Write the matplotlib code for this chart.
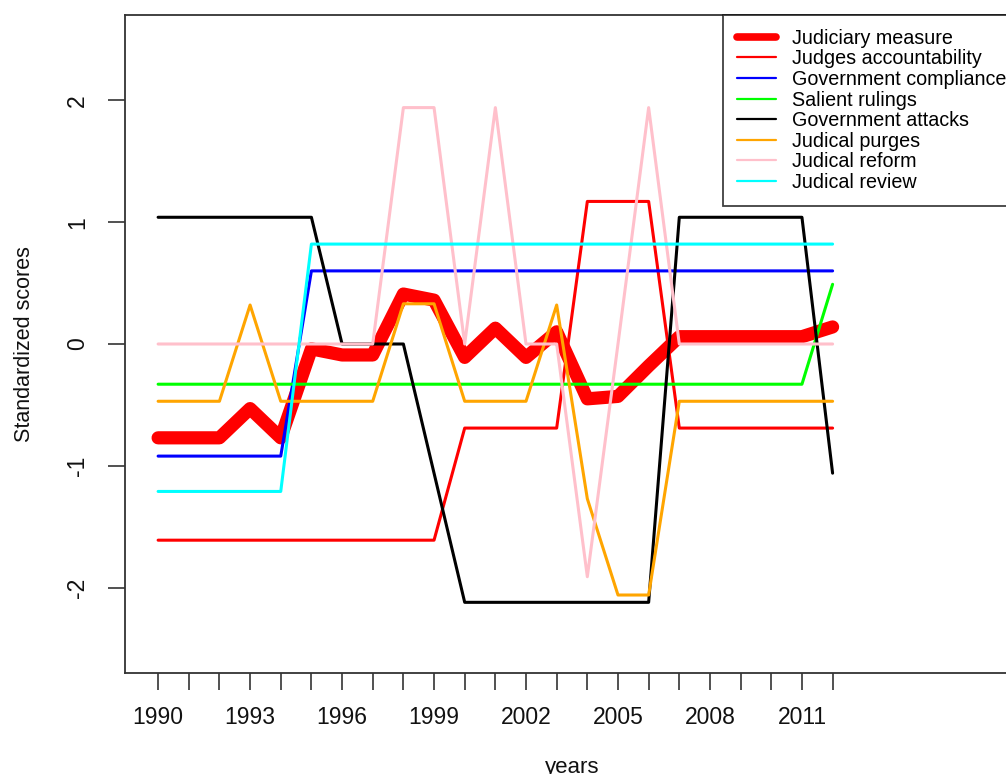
import matplotlib.pyplot as plt
from matplotlib.ticker import FixedLocator

plt.rcParams['font.family'] = ['Liberation Sans', 'DejaVu Sans']

# standardized scores per year, 1990-2012
years = list(range(1990, 2013))

judiciary = [-0.77, -0.77, -0.77, -0.53, -0.77, -0.04, -0.09, -0.09, 0.41, 0.36,
             -0.11, 0.13, -0.11, 0.10, -0.45, -0.43, -0.18, 0.06, 0.06, 0.06,
             0.06, 0.06, 0.14]
accountability = [-1.61, -1.61, -1.61, -1.61, -1.61, -1.61, -1.61, -1.61, -1.61, -1.61,
                  -0.69, -0.69, -0.69, -0.69, 1.17, 1.17, 1.17, -0.69, -0.69, -0.69,
                  -0.69, -0.69, -0.69]
compliance = [-0.92, -0.92, -0.92, -0.92, -0.92, 0.60, 0.60, 0.60, 0.60, 0.60,
              0.60, 0.60, 0.60, 0.60, 0.60, 0.60, 0.60, 0.60, 0.60, 0.60,
              0.60, 0.60, 0.60]
salient = [-0.33, -0.33, -0.33, -0.33, -0.33, -0.33, -0.33, -0.33, -0.33, -0.33,
           -0.33, -0.33, -0.33, -0.33, -0.33, -0.33, -0.33, -0.33, -0.33, -0.33,
           -0.33, -0.33, 0.49]
attacks = [1.04, 1.04, 1.04, 1.04, 1.04, 1.04, 0.0, 0.0, 0.0, -1.06,
           -2.12, -2.12, -2.12, -2.12, -2.12, -2.12, -2.12, 1.04, 1.04, 1.04,
           1.04, 1.04, -1.06]
purges = [-0.47, -0.47, -0.47, 0.32, -0.47, -0.47, -0.47, -0.47, 0.33, 0.33,
          -0.47, -0.47, -0.47, 0.32, -1.27, -2.06, -2.06, -0.47, -0.47, -0.47,
          -0.47, -0.47, -0.47]
reform = [0.0, 0.0, 0.0, 0.0, 0.0, 0.0, 0.0, 0.0, 1.94, 1.94,
          0.0, 1.94, 0.0, 0.0, -1.91, 0.0, 1.94, 0.0, 0.0, 0.0,
          0.0, 0.0, 0.0]
review = [-1.21, -1.21, -1.21, -1.21, -1.21, 0.82, 0.82, 0.82, 0.82, 0.82,
          0.82, 0.82, 0.82, 0.82, 0.82, 0.82, 0.82, 0.82, 0.82, 0.82,
          0.82, 0.82, 0.82]

labels = ['Judiciary measure', 'Judges accountability', 'Government compliance',
          'Salient rulings', 'Government attacks', 'Judical purges',
          'Judical reform', 'Judical review']
colors = ['#ff0000', '#ff0000', '#0000ff', '#00ff00', '#000000', '#ffa500',
          '#ffc0cb', '#00ffff']
series = [judiciary, accountability, compliance, salient, attacks, purges,
          reform, review]
xtick_labels = ['1990', '1993', '1996', '1999', '2002', '2005', '2008', '2011']

fig = plt.figure(figsize=(10.06, 7.74), dpi=100)
ax = fig.add_axes([125 / 1006, 101 / 774, 894 / 1006, 658 / 774])

for i, (vals, col, lab) in enumerate(zip(series, colors, labels)):
    lw = 9.5 if i == 0 else 2.2
    ax.plot(years, vals, color=col, lw=lw, label=lab,
            solid_capstyle='round', solid_joinstyle='round')

ax.set_xlim(1988.92, 2018.08)
ax.set_ylim(-2.7, 2.7)

ax.xaxis.set_major_locator(FixedLocator(years))
ax.set_xticklabels([str(y) if str(y) in xtick_labels else '' for y in years])
ax.set_yticks([-2, -1, 0, 1, 2])
ax.set_yticklabels(['-2', '-1', '0', '1', '2'], rotation=90, va='center')
ax.tick_params(axis='both', direction='out', length=12, width=1.2,
               color='#333333', labelsize=16.5, labelcolor='#111111')
ax.tick_params(axis='x', pad=12)
ax.tick_params(axis='y', pad=14)

for sp in ax.spines.values():
    sp.set_color('#333333')
    sp.set_linewidth(1.3)

ax.set_xlabel('years', fontsize=16, color='#111111', labelpad=20)
ax.set_ylabel('Standardized scores', fontsize=15.5, color='#111111', labelpad=22)

leg = ax.legend(loc='upper left', bbox_to_anchor=(723 / 1006, 1 - 15 / 774),
                bbox_transform=fig.transFigure, fontsize=14.2, frameon=True,
                fancybox=False, handlelength=2.0, handletextpad=0.8,
                labelspacing=0.08, borderpad=0.7, borderaxespad=0)
leg.get_frame().set_edgecolor('#111111')
leg.get_frame().set_linewidth(1.3)
for i, ln in enumerate(leg.get_lines()):
    ln.set_linewidth(5.5 if i == 0 else 1.6)

fig.savefig('out.png', dpi=100)
